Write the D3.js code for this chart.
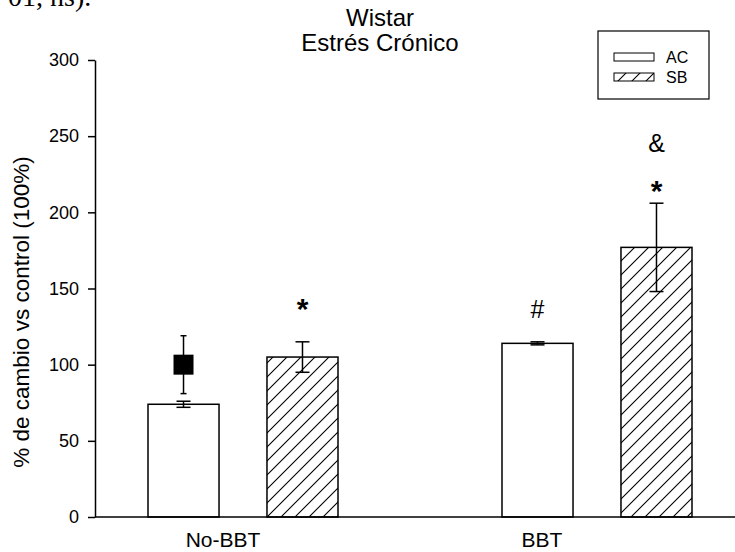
<!DOCTYPE html>
<html>
<head>
<meta charset="utf-8">
<script src="https://cdn.jsdelivr.net/npm/d3@7"></script>
<style>
  html, body { margin: 0; padding: 0; background: #fff; }
  svg { display: block; }
  text { font-family: Arial, "Liberation Sans", sans-serif; fill: #000; }
</style>
</head>
<body>
<svg id="chart" width="735" height="552"></svg>
<script>
// Group and series names
const groups = ["No-BBT", "BBT"];
const series = ["AC", "SB"];

// Mean % change vs control, with error (SEM) per group
const acValues = [74, 114];
const acErrors = [2, 1];
const sbValues = [105, 177];
const sbErrors = [10, 29];

// Control reference point (100%) drawn over the No-BBT AC bar
const controlGroup = ["No-BBT"];
const controlValues = [100];
const controlErrors = [19];

// Y axis ticks
const yTicks = [0, 50, 100, 150, 200, 250, 300];

// Significance symbols: group, series, symbol, level on the y axis
const sigGroups = ["No-BBT", "BBT", "BBT", "BBT"];
const sigSeries = ["SB", "AC", "SB", "SB"];
const sigSymbols = ["*", "#", "*", "&"];
const sigLevels = [141, 136.5, 218, 245.5];

const titleLines = ["Wistar", "Estrés Crónico"];
const yTitle = "% de cambio vs control (100%)";

const svg = d3.select("#chart");
svg.append("rect").attr("width", 735).attr("height", 552).attr("fill", "#fff");

// Hatch pattern for the SB series
const defs = svg.append("defs");
const pat = defs.append("pattern")
  .attr("id", "hatch")
  .attr("patternUnits", "userSpaceOnUse")
  .attr("width", 14).attr("height", 14);
pat.append("path")
  .attr("d", "M-2,2 L2,-2 M0,14 L14,0 M12,16 L16,12")
  .attr("stroke", "#000").attr("stroke-width", 1.1);

// Leftover line of running text above the figure
svg.append("text")
  .attr("x", 8).attr("y", 6)
  .style("font-family", "'Liberation Serif', 'Times New Roman', serif")
  .style("font-size", "28px")
  .text("01, ns).");

const y = d3.scaleLinear().domain([0, 300]).range([517, 60]);
const xGroup = d3.scalePoint().domain(groups).range([243, 597]);
const xInner = d3.scaleBand().domain(series).range([-95, 95]).paddingInner(0.403);
// Category tick labels sit on their own evenly spaced category positions
const xLabel = d3.scalePoint().domain(groups).range([223, 542]);

const seriesData = {
  AC: { values: acValues, errors: acErrors, fill: "#fff" },
  SB: { values: sbValues, errors: sbErrors, fill: "url(#hatch)" }
};

// Bars
series.forEach(s => {
  const d = groups.map((g, i) => ({ g, v: seriesData[s].values[i], e: seriesData[s].errors[i] }));
  const gx = g => xGroup(g) + xInner(s);
  svg.append("g").selectAll("rect").data(d).join("rect")
    .attr("x", d => gx(d.g))
    .attr("y", d => y(d.v))
    .attr("width", xInner.bandwidth())
    .attr("height", d => y(0) - y(d.v))
    .attr("fill", seriesData[s].fill)
    .attr("stroke", "#000").attr("stroke-width", 1.5);
  // error bars
  const eg = svg.append("g").attr("stroke", "#000").attr("stroke-width", 1.5);
  d.forEach(d => {
    const cx = gx(d.g) + xInner.bandwidth() / 2;
    eg.append("line").attr("x1", cx).attr("x2", cx).attr("y1", y(d.v - d.e)).attr("y2", y(d.v + d.e));
    [d.v - d.e, d.v + d.e].forEach(v => {
      eg.append("line").attr("x1", cx - 7).attr("x2", cx + 7).attr("y1", y(v)).attr("y2", y(v));
    });
  });
});

// Control point with error bar
controlGroup.forEach((g, i) => {
  const cx = xGroup(g) + xInner("AC") + xInner.bandwidth() / 2;
  const v = controlValues[i], e = controlErrors[i];
  const cg = svg.append("g").attr("stroke", "#000").attr("stroke-width", 1.5);
  cg.append("line").attr("x1", cx).attr("x2", cx).attr("y1", y(v - e)).attr("y2", y(v + e));
  [v - e, v + e].forEach(val => {
    cg.append("line").attr("x1", cx - 3).attr("x2", cx + 3).attr("y1", y(val)).attr("y2", y(val));
  });
  svg.append("rect")
    .attr("x", cx - 10).attr("y", y(v) - 10)
    .attr("width", 20).attr("height", 20)
    .attr("fill", "#000");
});

// Axes
const yAxis = d3.axisLeft(y).tickValues(yTicks).tickSize(7).tickPadding(9).tickSizeOuter(0);
const ya = svg.append("g").attr("transform", "translate(95,0)").call(yAxis);
ya.select(".domain").attr("stroke-width", 1.5);
ya.selectAll(".tick line").attr("stroke-width", 1.5);
ya.selectAll(".tick text").style("font-size", "18px").style("font-family", "Arial, 'Liberation Sans', sans-serif");

svg.append("line")
  .attr("x1", 95).attr("x2", 735).attr("y1", y(0)).attr("y2", y(0))
  .attr("stroke", "#000").attr("stroke-width", 1.5);

// Category labels
svg.append("g").selectAll("text").data(groups).join("text")
  .attr("x", d => xLabel(d)).attr("y", 547)
  .attr("text-anchor", "middle")
  .style("font-size", "21px")
  .text(d => d);

// Y axis title
svg.append("text")
  .attr("transform", "translate(29,312) rotate(-90)")
  .attr("text-anchor", "middle")
  .style("font-size", "22.5px")
  .text(yTitle);

// Title
svg.append("g").selectAll("text").data(titleLines).join("text")
  .attr("x", 380).attr("y", (d, i) => 26 + i * 25)
  .attr("text-anchor", "middle")
  .style("font-size", "24px")
  .text(d => d);

// Significance symbols (baseline shifted so each glyph is centred on its level)
const glyphSize = { "*": 30, "#": 25, "&": 25 };
const glyphShift = { "*": 0.55, "#": 0.36, "&": 0.36 };
sigSymbols.forEach((sym, i) => {
  const cx = xGroup(sigGroups[i]) + xInner(sigSeries[i]) + xInner.bandwidth() / 2;
  svg.append("text")
    .attr("x", cx)
    .attr("y", y(sigLevels[i]) + glyphShift[sym] * glyphSize[sym])
    .attr("text-anchor", "middle")
    .style("font-size", glyphSize[sym] + "px")
    .style("font-weight", sym === "*" ? "bold" : "normal")
    .text(sym);
});

// Legend
const lg = svg.append("g").attr("transform", "translate(598,31)");
lg.append("rect").attr("width", 111).attr("height", 68)
  .attr("fill", "#fff").attr("stroke", "#000").attr("stroke-width", 1.2);
series.forEach((s, i) => {
  lg.append("rect")
    .attr("x", 16).attr("y", 22 + i * 20)
    .attr("width", 40).attr("height", 8)
    .attr("fill", seriesData[s].fill)
    .attr("stroke", "#000").attr("stroke-width", 1);
  lg.append("text")
    .attr("x", 68).attr("y", 32 + i * 20)
    .style("font-size", "16px")
    .text(s);
});
</script>
</body>
</html>
